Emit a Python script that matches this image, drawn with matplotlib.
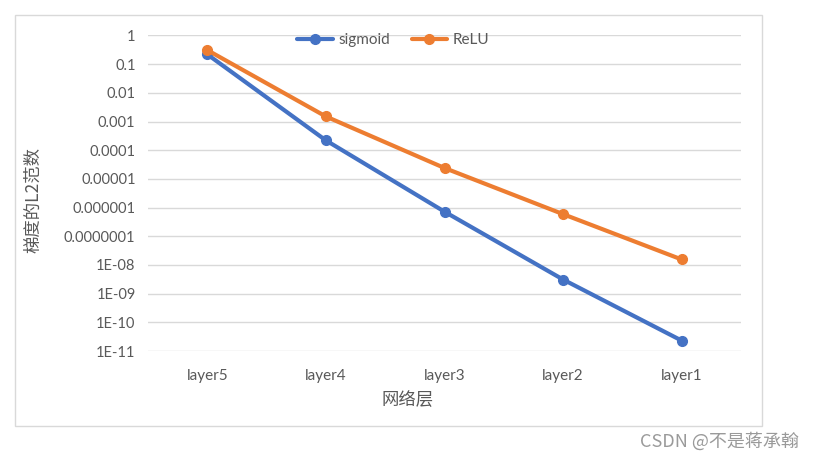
import matplotlib
matplotlib.use("Agg")
import matplotlib.pyplot as plt
from matplotlib.patches import Rectangle
from matplotlib.ticker import FixedLocator, FixedFormatter, NullLocator

plt.rcParams['font.family'] = ['Lato', 'Noto Sans CJK SC', 'DejaVu Sans']

categories = ["layer5", "layer4", "layer3", "layer2", "layer1"]
sigmoid = [0.22, 2.2e-4, 7.2e-7, 3.1e-9, 2.3e-11]
relu = [0.31, 1.5e-3, 2.4e-5, 5.9e-7, 1.55e-8]
ytick_vals = [1, 0.1, 0.01, 0.001, 1e-4, 1e-5, 1e-6, 1e-7, 1e-8, 1e-9, 1e-10, 1e-11]
ytick_labels = ["1", "0.1", "0.01", "0.001", "0.0001", "0.00001", "0.000001",
                "0.0000001", "1E-08", "1E-09", "1E-10", "1E-11"]

W, H = 815, 461
fig = plt.figure(figsize=(W / 100, H / 100), dpi=100)
fig.patch.set_facecolor("white")

# chart border
fig.patches.append(Rectangle((15 / W, 1 - 426 / H), (762 - 15) / W, (426 - 15) / H,
                             transform=fig.transFigure, fill=False,
                             edgecolor="#d9d9d9", linewidth=1.0))

left, right, top, bottom = 148, 741, 35.5, 351
ax = fig.add_axes([left / W, 1 - bottom / H, (right - left) / W, (bottom - top) / H])
ax.set_yscale("log")
ax.set_ylim(1e-11, 1)
ax.set_xlim(-0.5, len(categories) - 0.5)
x = list(range(len(categories)))

ax.yaxis.set_major_locator(FixedLocator(ytick_vals))
ax.yaxis.set_major_formatter(FixedFormatter(ytick_labels))
ax.yaxis.set_minor_locator(NullLocator())
ax.set_xticks(x)
ax.set_xticklabels(categories)
ax.grid(axis="y", color="#d9d9d9", linewidth=1.0)
ax.set_axisbelow(True)
for s in ax.spines.values():
    s.set_visible(False)
ax.tick_params(axis="both", length=0, colors="#595959")
ax.tick_params(axis="y", pad=9, labelsize=10.5)
ax.tick_params(axis="x", pad=13, labelsize=11)

ax.plot(x, sigmoid, color="#4472c4", linewidth=3, marker="o", markersize=7,
        label="sigmoid", solid_capstyle="round")
ax.plot(x, relu, color="#ed7d31", linewidth=3, marker="o", markersize=7,
        label="ReLU", solid_capstyle="round")

leg = ax.legend(loc="upper center", bbox_to_anchor=(0.414, 1.05), ncol=2, frameon=False,
                fontsize=11, handlelength=2.3, columnspacing=1.4, handletextpad=0.4)
for t in leg.get_texts():
    t.set_color("#595959")

fig.text(33 / W, 1 - 200 / H, "梯度的L2范数", rotation=90, ha="center", va="center",
         fontsize=12.5, color="#595959", family=['Noto Sans CJK SC', 'DejaVu Sans'])
fig.text(408 / W, 1 - 400 / H, "网络层", ha="center", va="center",
         fontsize=12.5, color="#595959", family=['Noto Sans CJK SC', 'DejaVu Sans'])
fig.text(799 / W, 1 - 441 / H, "CSDN @不是蒋承翰", ha="right", va="center",
         fontsize=13, color="#9a9a9a", family=['Noto Sans CJK SC', 'DejaVu Sans'])

fig.savefig("out.png", dpi=100)
